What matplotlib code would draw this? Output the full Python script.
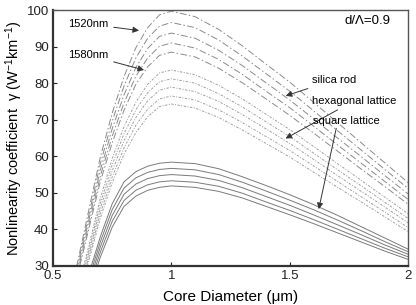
import matplotlib
matplotlib.use('Agg')
from matplotlib import pyplot as plt

plt.rcParams['font.family'] = ['Liberation Sans', 'DejaVu Sans']
plt.rcParams['mathtext.fontset'] = 'custom'
plt.rcParams['mathtext.rm'] = 'Liberation Sans'
plt.rcParams['mathtext.it'] = 'Liberation Sans'

# core diameter (um)
core_d = [0.6, 0.65, 0.7, 0.75, 0.8, 0.85, 0.9, 0.95, 1.0, 1.1, 1.2, 1.3,
          1.4, 1.5, 1.6, 1.7, 1.8, 1.9, 2.0]

# silica rod, 1520nm ... 1580nm
silica_rod = [
    [29.9, 44.9, 59.8, 71.8, 81.8, 89.7, 95.2, 98.7, 99.7, 98.2, 94.7, 90.2, 85.2, 80.3, 74.8, 69.3, 63.8, 58.3, 52.8],
    [29.0, 43.5, 58.0, 69.6, 79.2, 86.9, 92.3, 95.6, 96.6, 95.2, 91.8, 87.4, 82.6, 77.8, 72.5, 67.1, 61.8, 56.5, 51.2],
    [28.1, 42.2, 56.2, 67.5, 76.8, 84.3, 89.5, 92.8, 93.7, 92.3, 89.0, 84.8, 80.1, 75.4, 70.3, 65.1, 60.0, 54.8, 49.7],
    [27.3, 41.0, 54.6, 65.5, 74.6, 81.9, 86.9, 90.1, 91.0, 89.6, 86.5, 82.4, 77.8, 73.3, 68.3, 63.2, 58.2, 53.2, 48.2],
    [26.6, 39.8, 53.1, 63.7, 72.6, 79.7, 84.5, 87.6, 88.5, 87.2, 84.1, 80.1, 75.7, 71.2, 66.4, 61.5, 56.6, 51.8, 46.9],
]

# hexagonal lattice
hex_lattice = [
    [22.6, 35.1, 48.5, 59.4, 68.1, 74.8, 79.7, 82.8, 83.6, 82.3, 79.4, 75.7, 71.5, 67.3, 62.7, 58.1, 53.5, 48.9, 44.3],
    [21.9, 34.1, 47.1, 57.7, 66.2, 72.7, 77.4, 80.4, 81.2, 80.0, 77.1, 73.5, 69.4, 65.4, 60.9, 56.4, 52.0, 47.5, 43.0],
    [21.3, 33.1, 45.8, 56.0, 64.3, 70.6, 75.2, 78.1, 78.9, 77.7, 75.0, 71.4, 67.5, 63.5, 59.2, 54.8, 50.5, 46.2, 41.8],
    [20.7, 32.1, 44.4, 54.3, 62.3, 68.5, 72.9, 75.7, 76.5, 75.4, 72.7, 69.2, 65.4, 61.6, 57.4, 53.2, 49.0, 44.8, 40.5],
    [20.1, 31.2, 43.1, 52.8, 60.6, 66.5, 70.8, 73.6, 74.3, 73.2, 70.6, 67.2, 63.5, 59.8, 55.7, 51.6, 47.6, 43.5, 39.4],
]

# square lattice
square_lattice = [
    [20.0, 27.5, 38.0, 47.0, 53.0, 55.8, 57.3, 58.1, 58.4, 58.0, 56.6, 54.4, 52.0, 49.5, 46.8, 43.9, 40.8, 37.7, 34.6],
    [19.0, 26.3, 36.6, 45.4, 51.3, 54.1, 55.6, 56.4, 56.7, 56.3, 55.0, 52.9, 50.5, 48.0, 45.4, 42.6, 39.7, 36.7, 33.9],
    [18.0, 25.1, 35.2, 43.8, 49.6, 52.4, 53.9, 54.7, 55.0, 54.6, 53.4, 51.4, 49.0, 46.6, 44.0, 41.3, 38.6, 35.8, 33.2],
    [17.0, 23.9, 33.8, 42.2, 47.9, 50.7, 52.2, 53.0, 53.3, 52.9, 51.8, 49.9, 47.5, 45.2, 42.7, 40.1, 37.5, 34.9, 32.5],
    [16.0, 22.7, 32.4, 40.6, 46.3, 49.1, 50.7, 51.5, 51.9, 51.5, 50.4, 48.6, 46.3, 44.0, 41.6, 39.1, 36.6, 34.1, 31.8],
]

fig = plt.figure(figsize=(4.16, 3.05), dpi=100)
ax = fig.add_axes([0.1274, 0.128, 0.8536, 0.839])

for ys in silica_rod:
    ax.plot(core_d, ys, color='#8a8a8a', lw=0.7, ls=(0, (7, 2.5, 1.5, 2.5)))
for ys in hex_lattice:
    ax.plot(core_d, ys, color='#a0a0a0', lw=0.7, ls=(0, (2.5, 1.5, 1, 1.5)))
for ys in square_lattice:
    ax.plot(core_d, ys, color='#7a7a7a', lw=0.7, ls='-')

ax.set_xlim(0.5, 2.0)
ax.set_ylim(30, 100)
ax.set_xticks([0.5, 1, 1.5, 2])
ax.set_xticklabels(['0.5', '1', '1.5', '2'])
ax.set_yticks(range(30, 101, 10))
ax.tick_params(direction='in', length=3, labelsize=9.5, colors='#222222', pad=3)
for side in ['left', 'bottom']:
    ax.spines[side].set_linewidth(1.6)
    ax.spines[side].set_color('#333333')
for side in ['top', 'right']:
    ax.spines[side].set_linewidth(1.0)
    ax.spines[side].set_color('#555555')

ax.set_xlabel('Core Diameter (\u03bcm)', fontsize=11, labelpad=6)
ax.set_ylabel('Nonlinearity coefficient  \u03b3 (W$^{-1}$km$^{-1}$)', fontsize=10.5, labelpad=1)

arrow = dict(arrowstyle='-|>', color='#333333', lw=0.7, mutation_scale=9)
ax.annotate('1520nm', xy=(0.875, 94.3), xytext=(0.563, 96.2), fontsize=8,
            va='center', arrowprops=arrow)
ax.annotate('1580nm', xy=(0.896, 83.4), xytext=(0.563, 87.7), fontsize=8,
            va='center', arrowprops=arrow)
ax.text(1.924, 97.1, 'd/\u039b=0.9', fontsize=9.5, ha='right', va='center')
ax.annotate('silica rod', xy=(1.472, 76.3), xytext=(1.594, 80.9), fontsize=8,
            va='center', arrowprops=arrow)
ax.annotate('hexagonal lattice', xy=(1.472, 64.5), xytext=(1.594, 75.2), fontsize=8,
            va='center', arrowprops=arrow)
ax.text(1.598, 69.7, 'square lattice', fontsize=8, va='center')
ax.annotate('', xy=(1.62, 44.8), xytext=(1.699, 68.4), arrowprops=arrow)

plt.savefig('out.png', dpi=100)
plt.close()
